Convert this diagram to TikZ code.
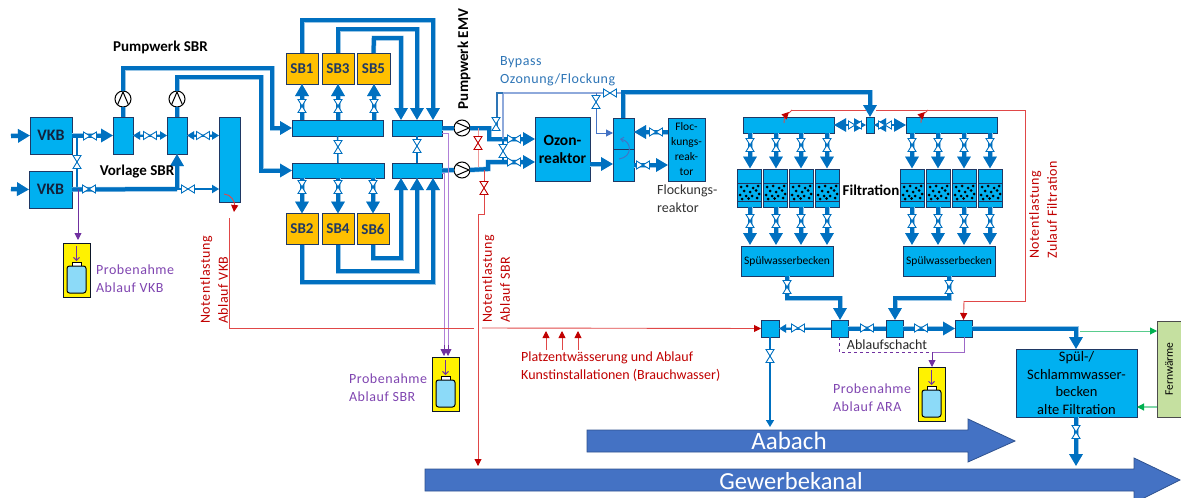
\documentclass[tikz,border=0pt]{standalone}
\usepackage{fontspec}
\setmainfont{Carlito}
\usetikzlibrary{arrows.meta,calc}
\definecolor{pipeblue}{HTML}{0070C0}
\definecolor{boxblue}{HTML}{00B0F0}
\definecolor{navy}{HTML}{1F3864}
\definecolor{sbgold}{HTML}{FFC000}
\definecolor{riverblue}{HTML}{4472C4}
\definecolor{riveredge}{HTML}{2F528F}
\definecolor{lightpipe}{HTML}{8EA9DB}
\definecolor{txtblue}{HTML}{2E75B6}
\definecolor{redline}{HTML}{E04848}
\definecolor{redhead}{HTML}{C00000}
\definecolor{pinkline}{HTML}{EE9A9A}
\definecolor{purpleline}{HTML}{7030A0}
\definecolor{purpletxt}{HTML}{7F45B0}
\definecolor{lilac}{HTML}{B080D8}
\definecolor{greenline}{HTML}{00B050}
\definecolor{fwgreen}{HTML}{C5E0A0}
\tikzset{
  box/.style={draw=navy,fill=boxblue,line width=1pt,inner sep=0pt,outer sep=0pt,align=center,font=\fontsize{11}{14}\selectfont},
  sbbox/.style={box,fill=sbgold,text=navy,minimum width=32pt,minimum height=31pt,font=\fontsize{15}{17}\bfseries\selectfont},
  pump/.style={circle,draw=black,fill=white,line width=1pt,minimum size=16pt,inner sep=0pt,outer sep=0pt},
  pumpu/.style={pump,path picture={\draw[line width=1pt,shift={(path picture bounding box.center)}] (-6,7)--(0,-7)--(6,7);}},
  pumpr/.style={pump,path picture={\draw[line width=1pt,shift={(path picture bounding box.center)}] (-7,-6)--(7,0)--(-7,6);}},
  pipe/.style={preaction={draw=pipeblue!40!white,line width=5pt},draw=pipeblue,line width=4pt,line join=miter},
  pipem/.style={preaction={draw=pipeblue!40!white,line width=2.8pt},draw=pipeblue,line width=2pt},
  pipet/.style={draw=pipeblue,line width=1.5pt},
  ha/.style={-{Triangle[length=12pt,width=13pt]}},
  hb/.style={{Triangle[length=12pt,width=13pt]}-{Triangle[length=12pt,width=13pt]}},
  hc/.style={-{Triangle[length=7pt,width=8pt]}},
  hd/.style={{Triangle[length=7pt,width=8pt]}-{Triangle[length=7pt,width=8pt]}},
  redl/.style={draw=redline,line width=.9pt},
  pinkl/.style={draw=pinkline,line width=1pt},
  reda/.style={-{Triangle[length=7pt,width=7pt,color=redhead]}},
  purl/.style={draw=purpleline,line width=.9pt},
  lilacl/.style={draw=lilac,line width=1pt},
  pura/.style={-{Triangle[length=7pt,width=7pt]}},
  lbl/.style={inner sep=0pt,outer sep=0pt,align=left,font=\fontsize{14}{18}\selectfont\addfontfeatures{LetterSpace=4}},
  blackb/.style={inner sep=0pt,outer sep=0pt,align=center,font=\fontsize{15}{17}\bfseries\selectfont},
  valve/.pic={\draw[line width=.9pt,fill=white,pic actions] (-6.5,-4)--(6.5,4)--(6.5,-4)--(-6.5,4)--cycle;},
  filterunit/.pic={
    \draw[draw=navy,fill=boxblue,line width=1pt] (0,0) rectangle (24,38);
    \draw[draw=navy,fill=boxblue,line width=1pt] (0,14) rectangle (24,32);
    \foreach \a/\b in {4/18,10/17,16/19,21/17,7/22,13/23,19/21.5,22/25,3/26,9/27,15/27,20/29,5/30,11.5/29.5}
      \fill[black] (\a,\b) circle (1.5);
  },
  bottleunit/.pic={
    \draw[draw=black!60!navy,fill=yellow,line width=1pt] (0,0) rectangle (27,54);
    \draw[draw=black,fill=white,line width=.8pt] (9,19) rectangle (18,23);
    \draw[draw=black,fill=cyan!45!white,line width=1pt,rounded corners=2.5pt] (4,23) rectangle (23,50);
    \draw[draw=purpleline,line width=.9pt,-{Straight Barb[length=3pt,width=6pt]}] (13.5,3) -- (13.5,18);
  }
}
\begin{document}
\begin{tikzpicture}[x=1pt,y=-1pt]
\path[use as bounding box] (0,0) rectangle (1181,498);
% ---- rivers
\begin{scope}
\clip (0,0) rectangle (1181,498);
\path[draw=riveredge,fill=riverblue,line width=.8pt] (587,430)--(968,430)--(968,419)--(1015,441)--(968,462)--(968,452)--(587,452)--cycle;
\path[draw=riveredge,fill=riverblue,line width=.8pt] (425,469)--(1134,469)--(1134,458)--(1180,480)--(1134,503)--(1134,491)--(425,491)--cycle;
\end{scope}
\node[inner sep=0pt,text=white,font=\fontsize{25}{28}\selectfont] (aabach) at (789,441) {Aabach};
\node[inner sep=0pt,text=white,font=\fontsize{24.5}{28}\selectfont] (gewerbe) at (791,481) {Gewerbekanal};
% ---- nodes
\node[box,minimum width=42pt,minimum height=37pt,font=\fontsize{16}{18}\bfseries\selectfont,text=navy!60!black] (vkb1) at (51,135.5) {VKB};
\node[box,minimum width=43pt,minimum height=37pt,font=\fontsize{16}{18}\bfseries\selectfont,text=navy!60!black] (vkb2) at (50.5,189.5) {VKB};
\node[box,minimum width=20pt,minimum height=37pt] (va) at (123,135.5) {};
\node[box,minimum width=20pt,minimum height=37pt] (vb) at (177,135.5) {};
\node[box,minimum width=21pt,minimum height=85pt] (vc) at (229.5,159.5) {};
\node[pumpu] (p1) at (123,99) {};
\node[pumpu] (p2) at (177,99) {};
\node[sbbox] (sb1) at (302,68.5) {SB1};
\node[sbbox] (sb3) at (338,68.5) {SB3};
\node[sbbox,minimum width=33pt] (sb5) at (373.5,68.5) {SB5};
\node[sbbox] (sb2) at (302,229) {SB2};
\node[sbbox] (sb4) at (338,229) {SB4};
\node[sbbox] (sb6) at (373,229) {SB6};
\node[box,minimum width=91pt,minimum height=16pt] (bt) at (337.5,128) {};
\node[box,minimum width=92pt,minimum height=15pt] (bb) at (338,170.5) {};
\node[box,minimum width=50pt,minimum height=16pt] (st) at (417,128) {};
\node[box,minimum width=50pt,minimum height=15pt] (sm) at (417,170.5) {};
\node[pumpr] (e1) at (462,128) {};
\node[pumpr] (e2) at (462,170) {};
\node[box,minimum width=55pt,minimum height=64pt,font=\fontsize{15.5}{18}\bfseries\selectfont] (oz) at (562.5,149) {Ozon-\\reaktor};
\node[box,minimum width=21pt,minimum height=63pt] (tall) at (623.5,149.5) {};
\node[box,minimum width=37pt,minimum height=63pt,font=\fontsize{11.5}{15}\selectfont] (fl) at (686.5,149.5) {Floc-\\kungs-\\reak-\\tor};
\node[box,minimum width=8pt,minimum height=16pt] (hub) at (870,125) {};
\node[box,minimum width=91pt,minimum height=16pt] (fl1) at (788.5,125) {};
\node[box,minimum width=91pt,minimum height=16pt] (fr1) at (951.5,125) {};
\node[box,minimum width=92pt,minimum height=30pt,font=\fontsize{11.5}{13}\selectfont] (sp1) at (787,261) {Spülwasserbecken};
\node[box,minimum width=92pt,minimum height=30pt,font=\fontsize{11.5}{13}\selectfont] (sp2) at (949,261) {Spülwasserbecken};
\node[box,minimum width=18pt,minimum height=17pt] (ab1) at (770,328.5) {};
\node[box,minimum width=17pt,minimum height=17pt] (ab2) at (839.5,328.5) {};
\node[box,minimum width=17pt,minimum height=17pt] (ab3) at (894.5,328.5) {};
\node[box,minimum width=17pt,minimum height=17pt] (ab4) at (963.5,328.5) {};
\node[box,minimum width=121pt,minimum height=68pt,font=\fontsize{14.5}{17.5}\selectfont] (sw) at (1076.5,383) {Spül-/\\Schlammwasser-\\becken\\alte Filtration};
\node[draw=black!70,fill=fwgreen,line width=1pt,minimum width=24pt,minimum height=96pt,inner sep=0pt,outer sep=0pt] (fw) at (1169,369) {};
\node[rotate=90,inner sep=0pt,font=\fontsize{11.5}{13}\selectfont] (fwt) at (fw) {Fernwärme};
% ---- coordinates for free ends
\coordinate (in1) at (11,136);
\coordinate (in2) at (11,189);
% ---- feed
\draw[pipe,ha] (in1) -- (vkb1.west);
\draw[pipe,ha] (in2) -- (vkb2.west);
\draw[pipe,ha] (vkb1.east) -- (va.west);
\draw[pipem] (77,136) -- (77,189);
\draw[pipe] (vkb2.east) -- (177,189);
\draw[pipe,ha] (177,189) -- (vb.south);
\draw[pipem,hc] (177,189) -- (219,189);
\draw[pipem,hd] (va.east) -- (vb.west);
\draw[pipem,hd] (vb.east) -- (vc.west |- vb.east);
\draw[pipe] (va.north) -- (p1.south);
\draw[pipe] (vb.north) -- (p2.south);
\draw[pipe,ha] (p1.north) -- (123,68) -- (272,68) -- (272,128) -- (bt.west);
\draw[pipe,ha] (p2.north) -- (177,77) -- (261,77) -- (261,170.5) -- (bb.west);
\draw[purl,pura] (78,189) -- (78,240);
% ---- SBR
\foreach \n/\x in {sb1/302,sb3/338,sb5/374}{
  \draw[pipe,ha] (\x,0 |- bt.north) -- (\x,0 |- \n.south);
}
\foreach \n/\x in {sb2/302,sb4/338,sb6/373}{
  \draw[pipe,ha] (\x,0 |- bb.south) -- (\x,0 |- \n.north);
}
\draw[pipe,ha] (sb1.north) -- (302,20) -- (433,20) -- (433,0 |- st.north);
\draw[pipe,ha] (sb3.north) -- (338,29) -- (417,29) -- (417,0 |- st.north);
\draw[pipe,ha] (sb5.north) -- (374,38) -- (401,38) -- (401,0 |- st.north);
\draw[pipe,ha] (sb2.south) -- (302,282) -- (433,282) -- (433,0 |- sm.south);
\draw[pipe,ha] (sb4.south) -- (338,271) -- (417,271) -- (417,0 |- sm.south);
\draw[pipe,ha] (sb6.south) -- (373,258) -- (401,258) -- (401,0 |- sm.south);
\draw[pipet] (bt.south) -- (bb.north);
\draw[pipet] (st.south) -- (sm.north);
\draw[pipe] (st.east) -- (e1.west);
\draw[pipe] (sm.east) -- (e2.west);
\draw[pipe,ha] (e1.east) -- (489,128) -- (489,139) -- (oz.west |- 0,139);
\draw[pipe,ha] (e2.east) -- (488,169) -- (488,162) -- (oz.west |- 0,162);
% ---- purple from emv
\draw[lilacl] (st.east |- 0,133) -- (448,133);
\draw[lilacl] (sm.east |- 0,173) -- (444,173);
\draw[lilacl] (448,133) -- (448,345);
\draw[lilacl] (444,173) -- (444,345);
\draw[purl,pura] (448,345) -- (448,356);
\draw[purl,pura] (444,345) -- (444,356);
% ---- bypass
\draw[draw=lightpipe,line width=1.2pt] (503,139) -- (503,93) -- (623,93);
\draw[draw=txtblue,line width=1.2pt] (497,128) -- (497,93) -- (503,93);
\draw[pipet] (503,139) -- (503,162);
\draw[draw=riverblue,line width=1pt,-{Triangle[length=7pt,width=7pt]}] (596,93) -- (596,133) -- (tall.west |- 0,133);
% ---- reactors
\draw[pipe,ha] (oz.east |- 0,164) -- (tall.west |- 0,164);
\draw[line width=1pt,draw=navy] (tall.west |- 0,149) -- (tall.east |- 0,149);
\draw[draw=riverblue,line width=.9pt,-{Straight Barb[length=3pt,width=5pt]}] (619,159) .. controls (633,157) and (632,141) .. (620,139);
\draw[pipe,ha] (fl.west |- 0,132) -- (tall.east |- 0,132);
\draw[pipe,ha] (tall.east |- 0,165) -- (fl.west |- 0,165);
\draw[pipe,ha] (623,0 |- tall.north) -- (623,92) -- (870,92) -- (hub.north);
% ---- filtration
\draw[pipem,hb] (hub.west) -- (fl1.east);
\draw[pipem,hb] (hub.east) -- (fr1.west);
\foreach \x/\l in {737/750,763/776,789/801,815/827,900/912,926/938,952/964,978/990}{
  \pic at (\x,169) {filterunit};
  \draw[pipe,ha] (\l,133) -- (\l,168.5);
  \draw[pipe,ha] (\l,207) -- (\l,245);
}
\draw[pipe,ha] (787,0 |- sp1.south) -- (787,298) -- (840,298) -- (ab2.north -| 840,0);
\draw[pipe,ha] (949,0 |- sp2.south) -- (949,298) -- (895,298) -- (ab3.north -| 895,0);
\draw[pipem,hc] (ab2.west) -- (ab1.east);
\draw[pipe] (ab2.east) -- (ab3.west);
\draw[pipe,ha] (ab3.east) -- (ab4.west);
\draw[pipe,ha] (ab4.east) -- (1076,328.5) -- (sw.north -| 1076,0);
\draw[pipet,hc] (ab1.south) -- (770,427);
\draw[pipe,ha] (sw.south -| 1076,0) -- (1076,466);
% ---- green
\draw[draw=greenline!65!white,line width=1pt,-{Triangle[length=7pt,width=7pt,color=greenline]}] (1080,331) -- (fw.west |- 0,331);
\draw[draw=greenline!50!white,line width=1.2pt,-{Triangle[length=7pt,width=7pt,color=greenline]}] (fw.west |- 0,407) -- (sw.east |- 0,407);
% ---- red
\draw[redl,-{Triangle[length=7pt,width=7pt,color=redhead]}] (224,194) .. controls (231,194) and (235,202) .. (234,212);
\draw[redl] (229.5,218) -- (229.5,328) -- (474,328);
\draw[redl,reda] (482,328) -- (ab1.west);
\foreach \x in {546,562,578}{\draw[redl,reda] (\x,350) -- (\x,331);}
\draw[pinkl] (478,128) -- (478,167);
\draw[redl] (484,170) -- (484,214) -- (478,214);
\draw[redl,reda] (478,214) -- (478,466);
\draw[redl] (792,110) -- (866,110);
\draw[redl] (876,110) -- (1025,110) -- (1025,301) -- (964,301);
\draw[redl,reda] (964,301) -- (ab4.north);
\draw[redl,reda] (784,123) .. controls (784,118) and (786,115) .. (789,112);
\draw[redl] (789,113) -- (792,110);
\draw[redl,reda] (921,123) .. controls (921,118) and (922,115) .. (925,112);
\draw[redl] (925,113) -- (928,110);
% ---- purple ARA
\draw[purl,dashed] (839,337) -- (839,352) -- (932,352);
\draw[purl,draw=lilac!70!purpleline] (964,337) -- (964,352) -- (932,352);
\draw[purl,pura] (932,352) -- (932,367);
% ---- valves
\foreach \x/\y in {90/136,89/189,150/135.5,203/135.5,188/189,514/139,514/162,656/132,643/165,855/125,885/125,798/328,867/328,921/328,610/93}{
  \pic[draw=pipeblue] at (\x,\y) {valve};
}
\foreach \x/\y in {77/162,302/106,338/106,374/106,302/187,338/187,373/187,338/147,417/146,496/124,503/151,596/102,787/287,949/287,770/356,1076/432}{
  \pic[draw=pipeblue,rotate=90] at (\x,\y) {valve};
}
\foreach \x in {750,776,801,827,912,938,964,990}{
  \pic[draw=pipeblue,rotate=90] at (\x,145) {valve};
  \pic[draw=pipeblue,rotate=90] at (\x,221) {valve};
}
\foreach \x/\y in {478/143,484/188}{
  \pic[draw=redhead,rotate=90] at (\x,\y) {valve};
}
% ---- bottles
\pic at (63,243) {bottleunit};
\pic at (432,357) {bottleunit};
\pic at (918,367) {bottleunit};
% ---- labels
\node[blackb,anchor=center] (tpw) at (160.5,47) {Pumpwerk SBR};
\node[blackb,anchor=center] (tvl) at (137,172) {Vorlage SBR};
\node[blackb,rotate=90] (tem) at (464,59) {Pumpwerk EMV};
\node[blackb] (tfi) at (871,190) {Filtration};
\node[lbl,text=purpletxt,anchor=west] (tp1) at (96,279) {Probenahme\\Ablauf VKB};
\node[lbl,text=purpletxt,anchor=west] (tp2) at (349,388) {Probenahme\\Ablauf SBR};
\node[lbl,text=purpletxt,anchor=west] (tp3) at (833,398) {Probenahme\\Ablauf ARA};
\node[lbl,text=txtblue,anchor=west] (tby) at (500,71) {Bypass\\Ozonung/Flockung};
\node[inner sep=0pt,align=left,text=black!80,anchor=west,font=\fontsize{14}{18}\selectfont] (tfl) at (657,199) {Flockungs-\\reaktor};
\node[lbl,text=redhead,rotate=90] (tnv) at (214,280) {Notentlastung\\Ablauf VKB};
\node[lbl,text=redhead,rotate=90] (tns) at (496,279) {Notentlastung\\Ablauf SBR};
\node[lbl,text=redhead,rotate=90] (tnf) at (1043,210) {Notentlastung\\Zulauf Filtration};
\node[inner sep=0pt,align=left,text=redhead,anchor=west,font=\fontsize{14}{17.5}\selectfont] (tpl) at (521,366.5) {Platzentwässerung und Ablauf\\Kunstinstallationen (Brauchwasser)};
\node[inner sep=0pt,text=black!85,font=\fontsize{14}{16}\selectfont] (tas) at (887,345) {Ablaufschacht};
\end{tikzpicture}
\end{document}
